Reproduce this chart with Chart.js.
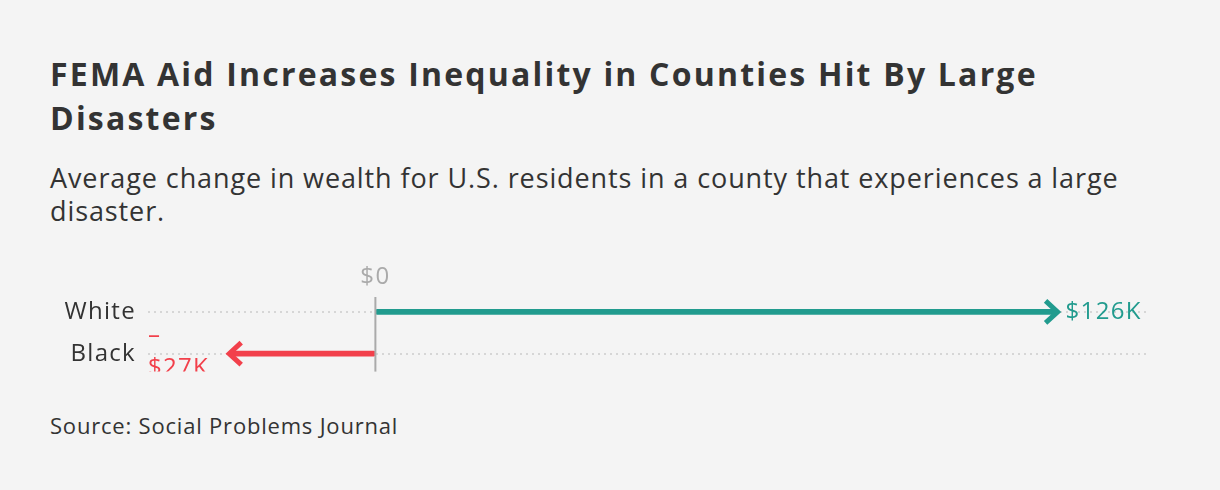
<!DOCTYPE html>
<html>
<head>
<meta charset="utf-8">
<script src="https://cdn.jsdelivr.net/npm/chart.js@4/dist/chart.umd.min.js"></script>
<style>
  body { margin: 0; background: #f4f4f4; width: 1220px; height: 490px; overflow: hidden; font-family: "Open Sans", sans-serif; color: #333; position: relative; }
  h1 { position: absolute; left: 50px; top: 52px; margin: 0; width: 1080px; font-size: 32px; letter-spacing: 2.2px; line-height: 44px; font-weight: 700; color: #333; }
  .sub { position: absolute; left: 50px; top: 161px; margin: 0; width: 1100px; font-size: 27px; letter-spacing: 0.9px; line-height: 33px; color: #333; }
  .src { position: absolute; left: 50px; top: 410px; font-size: 22px; letter-spacing: 0.8px; color: #333; }
  .chart { position: absolute; left: 0; top: 250px; width: 1220px; height: 151px; }
</style>
</head>
<body>
<h1>FEMA Aid Increases Inequality in Counties Hit By Large Disasters</h1>
<p class="sub">Average change in wealth for U.S. residents in a county that experiences a large disaster.</p>
<div class="chart"><canvas id="wealthChart"></canvas></div>
<div class="src">Source: Social Problems Journal</div>
<script>
const groups = ['White', 'Black'];
const wealthChange = [126, -27];      // thousands of dollars
const valueLabels = ['$126K', '-$27K'];
const arrowColors = ['#219b8e', '#f2404b'];

document.addEventListener('DOMContentLoaded', function() {
    const arrowPlugin = {
        id: 'arrows',
        beforeDraw(chart) {
            chart.ctx.letterSpacing = '1.3px';
        },
        afterDatasetsDraw(chart) {
            const ctx = chart.ctx;
            const area = chart.chartArea;
            const x0 = chart.scales.x.getPixelForValue(0);

            // zero line and its label
            ctx.save();
            ctx.strokeStyle = '#aaa';
            ctx.lineWidth = 2;
            ctx.beginPath();
            ctx.moveTo(x0, area.top + 6);
            ctx.lineTo(x0, area.bottom - 3);
            ctx.stroke();
            ctx.fillStyle = '#aaa';
            ctx.font = '24px "Open Sans"';
            ctx.textAlign = 'center';
            ctx.textBaseline = 'middle';
            ctx.fillText('$0', x0, area.top - 14);

            // arrow heads and value labels
            const meta = chart.getDatasetMeta(0);
            meta.data.forEach(function(bar, i) {
                const dir = wealthChange[i] >= 0 ? 1 : -1;
                const tip = bar.x;
                const y = bar.y;
                ctx.strokeStyle = arrowColors[i];
                ctx.lineWidth = 5;
                ctx.lineJoin = 'miter';
                ctx.lineCap = 'butt';
                ctx.beginPath();
                ctx.moveTo(tip - dir * 12, y - 11);
                ctx.lineTo(tip, y);
                ctx.lineTo(tip - dir * 12, y + 11);
                ctx.stroke();

                ctx.fillStyle = arrowColors[i];
                ctx.font = '24px "Open Sans"';
                ctx.textBaseline = 'middle';
                if (dir > 0) {
                    ctx.textAlign = 'left';
                    ctx.fillText(valueLabels[i], tip + 8, y);
                } else {
                    // label wraps and gets cut off at the left edge
                    ctx.save();
                    ctx.beginPath();
                    ctx.rect(0, 0, chart.width, area.bottom - 3);
                    ctx.clip();
                    ctx.textAlign = 'left';
                    ctx.fillText('\u2013', area.left, y - 18);
                    ctx.fillText(valueLabels[i].slice(1), area.left, y + 14);
                    ctx.restore();
                }
            });
            ctx.restore();
        }
    };

    const ctx = document.getElementById('wealthChart').getContext('2d');
    new Chart(ctx, {
        type: 'bar',
        data: {
            labels: groups,
            datasets: [{
                data: wealthChange,
                backgroundColor: arrowColors,
                barThickness: 5,
                borderRadius: 2,
                borderSkipped: false
            }]
        },
        options: {
            indexAxis: 'y',
            responsive: true,
            maintainAspectRatio: false,
            animation: false,
            layout: { padding: { top: 41, bottom: 4, right: 72 } },
            plugins: { legend: { display: false }, tooltip: { enabled: false } },
            scales: {
                x: {
                    display: false,
                    min: -42,
                    max: 142.7
                },
                y: {
                    afterFit(scale) { scale.width = 148; },
                    grid: { offset: false, drawTicks: false, color: '#d6d6d6', lineWidth: 2 },
                    border: { display: false, dash: [2, 4] },
                    ticks: { color: '#333', font: { family: 'Open Sans', size: 24 }, padding: 12 }
                }
            }
        },
        plugins: [arrowPlugin]
    });
});
</script>
</body>
</html>
